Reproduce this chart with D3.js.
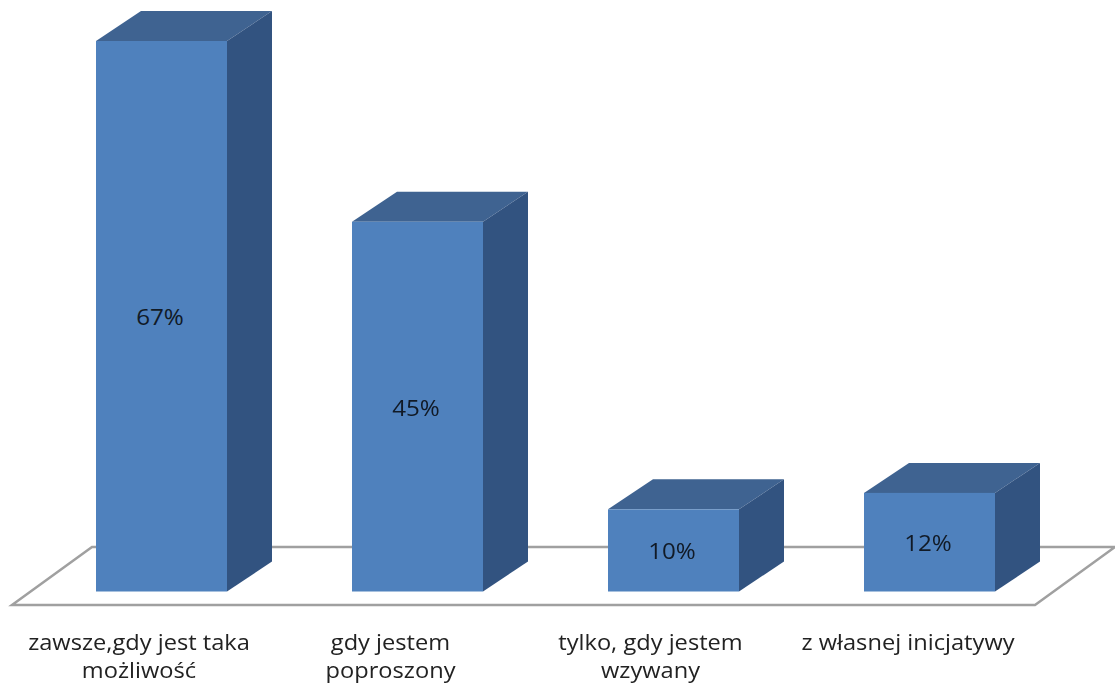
<!DOCTYPE html>
<html><head><meta charset="utf-8">
<script src="https://cdn.jsdelivr.net/npm/d3@7"></script>
<style>html,body{margin:0;padding:0;background:#fff;overflow:hidden}svg{display:block;filter:blur(0.6px)}</style>
</head><body><div id="c"></div>
<script>
const categories = ["zawsze,gdy jest taka możliwość","gdy jestem poproszony","tylko, gdy jestem wzywany","z własnej inicjatywy"];
const categoryLines = [["zawsze,gdy jest taka","możliwość"],["gdy jestem","poproszony"],["tylko, gdy jestem","wzywany"],["z własnej inicjatywy"]];
const values = [67,45,10,12];

const W=1115,H=685, depthX=45, depthY=30;
const FONT='"Open Sans","Noto Sans",sans-serif';
const svg=d3.select("#c").append("svg").attr("width",W).attr("height",H);
const x=d3.scaleBand().domain(categories).range([96,995]).paddingInner(125/256).paddingOuter(0);
const y=d3.scaleLinear().domain([0,67]).range([591.5,41]);
const line=d3.line();

svg.append("path").attr("d",line([[12,605],[1035,605],[1115,547],[92,547]])+"Z")
  .attr("fill","#fff").attr("stroke","#a0a0a0").attr("stroke-width",2.5);

const bars=svg.selectAll("g.bar").data(categories.map((c,i)=>({c,v:values[i],lines:categoryLines[i]}))).join("g").attr("class","bar");
bars.append("path").attr("fill","#3f6391").attr("d",d=>{const l=x(d.c),r=l+x.bandwidth(),t=y(d.v);
  return line([[l,t],[r,t],[r+depthX,t-depthY],[l+depthX,t-depthY]])+"Z";});
bars.append("path").attr("fill","#325380").attr("d",d=>{const r=x(d.c)+x.bandwidth(),t=y(d.v),b=y(0);
  return line([[r,t],[r+depthX,t-depthY],[r+depthX,b-depthY],[r,b]])+"Z";});
bars.append("rect").attr("fill","#4f81bd").attr("x",d=>x(d.c)).attr("y",d=>y(d.v))
  .attr("width",x.bandwidth()).attr("height",d=>y(0)-y(d.v));
bars.append("text").text(d=>d.v+"%")
  .attr("transform",d=>`translate(${x(d.c)+x.bandwidth()/2-1.5},${(y(d.v)+y(0))/2+9}) scale(1.1,1)`)
  .attr("text-anchor","middle")
  .attr("font-family",FONT).attr("font-size",22).attr("fill","#111a26");

const labels=svg.append("g").attr("font-family",FONT).attr("font-size",22).attr("fill","#222").attr("text-anchor","middle");
const labelShift=[-22.5,-27,-23,-21.5];
categoryLines.forEach((ls,i)=>{
  ls.forEach((s,j)=>labels.append("text").text(s)
    .attr("transform",`translate(${x(categories[i])+x.bandwidth()/2+labelShift[i]},${650+j*28}) scale(1.075,1)`));
});
</script></body></html>
